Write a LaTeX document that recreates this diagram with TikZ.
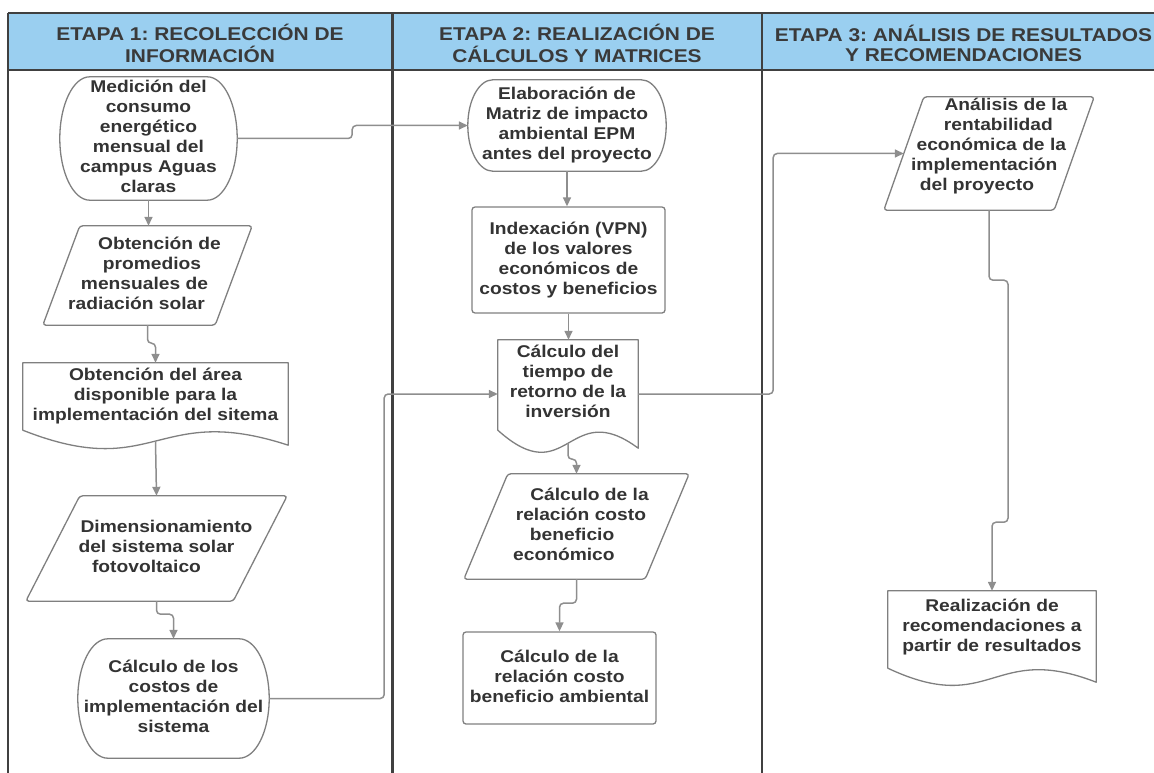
\documentclass[tikz,border=0pt]{standalone}
\usepackage{fontspec}
\setmainfont{Liberation Sans}[FakeStretch=1.13]
\usetikzlibrary{arrows.meta,calc}
\frenchspacing
\definecolor{hdrblue}{HTML}{9ACFF0}
\definecolor{framec}{HTML}{404040}
\definecolor{shapec}{HTML}{7F7F7F}
\definecolor{connc}{HTML}{8E8E8E}
\definecolor{txtc}{HTML}{333333}
\definecolor{hdrtxt}{HTML}{3A3A3A}
% text block: optional vertical raise, lines separated by \\
\newcommand\boxtext[2][0pt]{\raisebox{#1}[\height][\depth]{\begin{tabular}{@{}c@{}}#2\end{tabular}}}
% shift one line horizontally
\newcommand\sh[2]{\hspace*{#1}#2\hspace*{-#1}}
% outlines drawn round named nodes
\newcommand\drawterm[2]{%
  \draw[outline] let \p1=(#1.north west), \p2=(#1.south east), \n1={(\y1-\y2)/2} in
    (\x1+#2,\y1) -- (\x2-#2,\y1)
    arc[start angle=90,end angle=-90,x radius=#2,y radius=\n1]
    -- (\x1+#2,\y2)
    arc[start angle=270,end angle=90,x radius=#2,y radius=\n1] -- cycle;}
\newcommand\drawpara[2]{%
  \draw[outline,rounded corners=3pt] (#1.south west) -- ($(#1.north west)+(#2,0)$)
    -- (#1.north east) -- ($(#1.south east)+(-#2,0)$) -- cycle;}
\newcommand\drawdoc[2]{%
  \draw[outline] (#1.south east)
    .. controls ($(#1.south)+(0,2.9*#2)$) and ($(#1.south)+(0,-2.5*#2)$) .. ($(#1.south west)+(0,#2)$)
    -- (#1.north west) -- (#1.north east) -- cycle;}
\begin{document}
\begin{tikzpicture}[x=1pt,y=1pt,
  base/.style={font=\fontsize{17}{20}\selectfont\bfseries, text=txtc, inner sep=0pt},
  hdr/.style={font=\fontsize{18.5}{20}\selectfont\bfseries, text=hdrtxt, inner sep=0pt},
  box/.style={base, draw=shapec, line width=1.3pt, rounded corners=3pt},
  outline/.style={draw=shapec, line width=1.3pt, line join=round},
  conn/.style={draw=connc, line width=1.5pt, rounded corners=4pt, -{Triangle[length=9pt,width=8pt]}},
  frame/.style={draw=framec, line width=2.2pt}]
\useasboundingbox (0,0) rectangle (1154,-773);
\clip (0,0) rectangle (1154,-773);

% header band and lanes
\fill[hdrblue] (8,-13) rectangle (1175,-70);
\draw[frame] (8,-13) -- (1175,-13);
\draw[frame] (8,-70) -- (1175,-70);
\draw[frame] (8,-13) -- (8,-790);
\draw[frame] (392.5,-13) -- (392.5,-790);
\draw[frame] (762,-13) -- (762,-790);

\node[hdr] (h1) at (200,-46.5) {\boxtext{ETAPA 1: RECOLECCIÓN DE\\INFORMACIÓN}};
\node[hdr] (h2) at (577,-46.5) {\boxtext{ETAPA 2: REALIZACIÓN DE\\CÁLCULOS Y MATRICES}};
\node[hdr] (h3) at (963.5,-46.5) {\boxtext{ETAPA 3: ANÁLISIS DE RESULTADOS\\Y RECOMENDACIONES}};

% column 1
\node[base, minimum width=177pt, minimum height=123pt] (n1) at (148.5,-138.5)
  {\boxtext{Medición del\\consumo\\energético\\mensual del\\campus Aguas\\claras}};
\drawterm{n1}{30pt}
\node[base, minimum width=209pt, minimum height=99pt] (n2) at (147.5,-275.5)
  {\boxtext{\sh{12pt}{Obtención de}\\\sh{4.5pt}{promedios}\\\sh{-3pt}{mensuales de}\\\sh{-11pt}{radiación solar}}};
\drawpara{n2}{37}
\node[base, minimum width=265pt, minimum height=82pt] (n3) at (155.5,-404)
  {\boxtext[8pt]{Obtención del área\\disponible para la\\implementación del sitema}};
\drawdoc{n3}{15}
\node[base, minimum width=261pt, minimum height=105pt] (n4) at (156.5,-548.5)
  {\boxtext{\sh{10pt}{Dimensionamiento}\\del sistema solar\\\sh{-10pt}{fotovoltaico}}};
\drawpara{n4}{54}
\node[base, minimum width=191pt, minimum height=119pt] (n5) at (173.5,-698.5)
  {\boxtext{Cálculo de los\\costos de\\implementación del\\sistema}};
\drawterm{n5}{30pt}

% column 2
\node[base, minimum width=198pt, minimum height=91pt] (n6) at (567,-125.5)
  {\boxtext{Elaboración de\\Matriz de impacto\\ambiental EPM\\antes del proyecto}};
\drawterm{n6}{25pt}
\node[box, minimum width=193pt, minimum height=106pt] (n7) at (568.5,-260)
  {\boxtext{Indexación (VPN)\\de los valores\\económicos de\\costos y beneficios}};
\node[base, minimum width=140pt, minimum height=108pt] (n8) at (568,-394)
  {\boxtext[11pt]{Cálculo del\\tiempo de\\retorno de la\\inversión}};
\drawdoc{n8}{18}
\node[base, minimum width=225pt, minimum height=105pt] (n9) at (576.5,-526.5)
  {\boxtext{\sh{13pt}{Cálculo de la}\\\sh{4.4pt}{relación costo}\\\sh{-4.4pt}{beneficio}\\\sh{-12.6pt}{económico}}};
\drawpara{n9}{44}
\node[box, minimum width=193pt, minimum height=92pt] (n10) at (559.5,-678)
  {\boxtext{Cálculo de la\\relación costo\\beneficio ambiental}};

% column 3
\node[base, minimum width=210pt, minimum height=113pt] (n11) at (989,-153.5)
  {\boxtext[7pt]{\sh{17pt}{Análisis de la}\\\sh{9.4pt}{rentabilidad}\\\sh{2.3pt}{económica de la}\\\sh{-4.8pt}{implementación}\\\sh{-12pt}{del proyecto}}};
\drawpara{n11}{40}
\node[base, minimum width=208pt, minimum height=91pt] (n12) at (992,-636.5)
  {\boxtext[9.5pt]{Realización de\\recomendaciones a\\partir de resultados}};
\drawdoc{n12}{14}

% connectors
\draw[conn] (n1.south) -- (n1.south |- n2.north);
\draw[conn] (n1.east) -- ++(115,0) |- (n6.west);
\draw[conn] (n2.south) -- ++(0,-18) -| (n3.north);
\draw[conn] ([yshift=4pt]n3.south) -- (n4.north);
\draw[conn] (n4.south) -- ++(0,-13) -| (n5.north);
\draw[conn] (n5.east) -- ++(115,0) |- (n8.west);
\draw[conn] (n6.south) -- (n6.south |- n7.north);
\draw[conn] (n7.south) -- (n7.south |- n8.north);
\draw[conn] ([yshift=5pt]n8.south) -- ++(0,-16) -| (n9.north);
\draw[conn] (n8.east) -- ++(135,0) |- ([xshift=20pt]n11.west);
\draw[conn] (n9.south) -- ++(0,-24) -| (n10.north);
\draw[conn] (n11.south) -- ++(0,-70) -- ++(19,0) -- ++(0,-242) -| (n12.north);
\end{tikzpicture}
\end{document}
